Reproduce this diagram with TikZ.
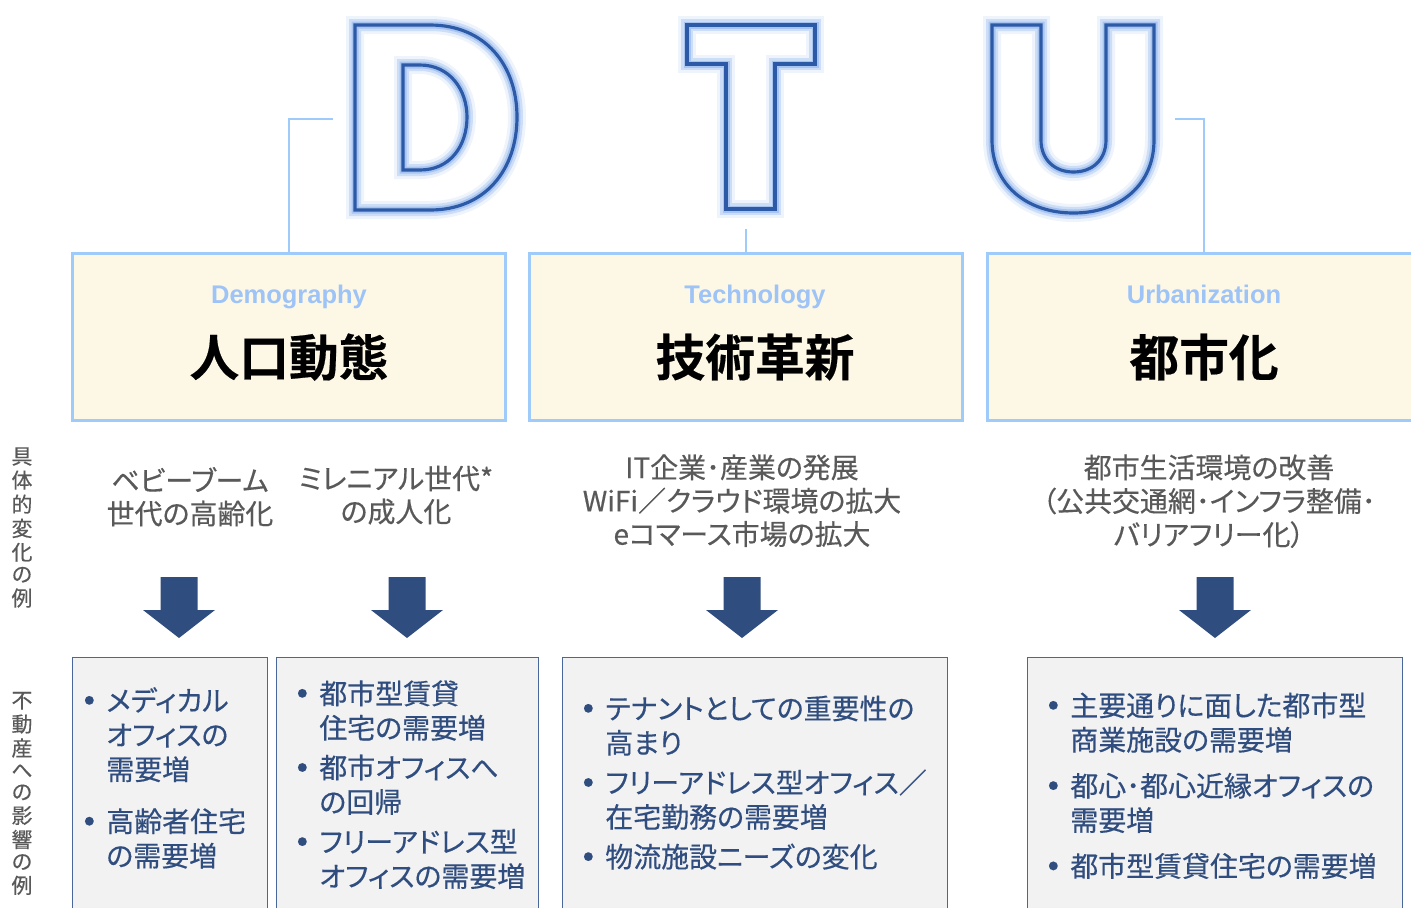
\documentclass[tikz,border=0pt]{standalone}
\usepackage{fontspec}
\setmainfont{Noto Sans CJK JP}[BoldFont={Noto Sans CJK JP Bold}, RawFeature=+palt, FakeBold=0.4]
\newfontfamily\enfont{Liberation Sans}
\definecolor{hdrline}{HTML}{9FCBFA}
\definecolor{hdrfill}{HTML}{FDF8E6}
\definecolor{enblue}{HTML}{9DC3F7}
\definecolor{midgray}{HTML}{595959}
\definecolor{navy}{HTML}{2F4D7E}
\definecolor{effline}{HTML}{4A679B}
\definecolor{efffill}{HTML}{F2F2F2}
\definecolor{letterline}{HTML}{2C5AA6}
\definecolor{letterglow}{HTML}{8FB4EC}
\newcommand\bul{\makebox[0.34cm][l]{\makebox[0pt]{\raisebox{0.14cm}{\fontsize{5.5}{5.5}\selectfont ●}}}}
\tikzset{
  letter/.style={even odd rule, draw=letterline, line width=1.8pt,
    preaction={fill=white, even odd rule},
    preaction={draw=letterglow, line width=0.36cm, draw opacity=0.15},
    preaction={draw=letterglow, line width=0.24cm, draw opacity=0.35},
    preaction={draw=letterglow, line width=0.14cm, draw opacity=0.6}},
  hdrbox/.style={draw=hdrline, line width=1.7pt, fill=hdrfill, minimum width=8.68cm, minimum height=3.34cm, inner sep=0pt},
  link/.style={draw=hdrline, line width=1.1pt},
  entitle/.style={font=\enfont\bfseries\fontsize{14.5}{16}\selectfont, text=enblue, anchor=base, inner sep=0pt},
  jptitle/.style={font=\bfseries\fontsize{28.3}{32}\selectfont, anchor=base, inner sep=0pt},
  change/.style={font=\fontsize{15.9}{18.4}\selectfont, text=midgray, anchor=base, inner sep=0pt},
  sidelab/.style={font=\fontsize{11.9}{12.4}\selectfont, text=midgray, anchor=base, inner sep=0pt},
  effbox/.style={draw=effline, line width=0.8pt, fill=efffill, anchor=north west, minimum height=5.3cm, inner sep=0pt},
  efftext/.style={font=\fontsize{15.9}{19.6}\selectfont, text=navy, anchor=base west, inner sep=0pt}
}
\begin{document}
\begin{tikzpicture}[x=0.02cm, y=-0.02cm]
\useasboundingbox (0,0) rectangle (1411,907);
\clip (0,0) rectangle (1411,907);

\path[letter] (355,25) -- (430,25) .. controls (485,25) and (517,65) .. (517,117) .. controls (517,170) and (485,210) .. (430,210) -- (355,210) -- cycle
  (403,65) -- (420,65) .. controls (450,65) and (467,90) .. (467,117) .. controls (467,146) and (450,170) .. (420,170) -- (403,170) -- cycle;
\path[letter] (687,25) -- (815,25) -- (815,64) -- (775,64) -- (775,209) -- (726,209) -- (726,64) -- (687,64) -- cycle;
\path[letter] (992,25) -- (1041,25) -- (1041,140) .. controls (1041,160) and (1055,172) .. (1073.5,172) .. controls (1092,172) and (1106,160) .. (1106,140) -- (1106,25) -- (1154,25) -- (1154,140) .. controls (1154,185) and (1120,213) .. (1073.5,213) .. controls (1027,213) and (992,185) .. (992,140) -- cycle;

\node[hdrbox] (demo) at (289,337) {};
\node[hdrbox] (tech) at (746,337) {};
\node[hdrbox] (urban) at (1204,337) {};
\coordinate (dend) at (333,119);
\coordinate (tend) at (746,229);
\coordinate (uend) at (1175,119);
\draw[link] (dend) -| (demo.north);
\draw[link] (tend) -- (tech.north);
\draw[link] (uend) -| (urban.north);
\node[entitle] (demoen) at (289,303) {Demography};
\node[entitle] (techen) at (755,303) {Technology};
\node[entitle] (urbanen) at (1204,303) {Urbanization};
\node[jptitle] (demojp) at (289,376) {人口動態};
\node[jptitle] (techjp) at (755,376) {技術革新};
\node[jptitle] (urbanjp) at (1204,376) {都市化};

\node[sidelab] (side1) at (22,464) {\begin{tabular}[t]{@{}c@{}}具\\体\\的\\変\\化\\の\\例\end{tabular}};
\node[sidelab] (side2) at (22,708) {\begin{tabular}[t]{@{}c@{}}不\\動\\産\\へ\\の\\影\\響\\の\\例\end{tabular}};

\node[change] (chg1) at (190,491) {\begin{tabular}[t]{@{}c@{}}ベビーブーム\\世代の高齢化\end{tabular}};
\node[change] (chg2) at (396,489) {\begin{tabular}[t]{@{}c@{}}ミレニアル世代*\\の成人化\end{tabular}};
\node[change] (chg3) at (742,478) {\begin{tabular}[t]{@{}c@{}}IT企業･産業の発展\\WiFi／クラウド環境の拡大\\eコマース市場の拡大\end{tabular}};
\node[change] (chg4) at (1209,478) {\begin{tabular}[t]{@{}c@{}}都市生活環境の改善\\（公共交通網･インフラ整備･\\バリアフリー化）\end{tabular}};

\foreach \ax in {179,407,742,1215}
  \fill[navy] (\ax-18.5,577) -- (\ax+18.5,577) -- (\ax+18.5,610) -- (\ax+36,610) -- (\ax,638) -- (\ax-36,610) -- (\ax-18.5,610) -- cycle;

\node[effbox, minimum width=3.9cm] (eff1) at (72,657) {};
\node[effbox, minimum width=5.24cm] (eff2) at (276,657) {};
\node[effbox, minimum width=7.7cm] (eff3) at (562,657) {};
\node[effbox, minimum width=7.5cm] (eff4) at (1027,657) {};
\node[efftext] (efftxt1) at (89,711) {\begin{tabular}[t]{@{}l@{}l@{}}\bul&メディカル\\&オフィスの\\&需要増\\[10pt]\bul&高齢者住宅\\&の需要増\end{tabular}};
\node[efftext] (efftxt2) at (302,704) {\begin{tabular}[t]{@{}l@{}l@{}}\bul&都市型賃貸\\&住宅の需要増\\[3pt]\bul&都市オフィスへ\\&の回帰\\[3pt]\bul&フリーアドレス型\\&オフィスの需要増\end{tabular}};
\node[efftext] (efftxt3) at (588,719) {\begin{tabular}[t]{@{}l@{}l@{}}\bul&テナントとしての重要性の\\&高まり\\[3pt]\bul&フリーアドレス型オフィス／\\&在宅勤務の需要増\\[3pt]\bul&物流施設ニーズの変化\end{tabular}};
\node[efftext] (efftxt4) at (1053,716) {\begin{tabular}[t]{@{}l@{}l@{}}\bul&主要通りに面した都市型\\&商業施設の需要増\\[6.5pt]\bul&都心･都心近縁オフィスの\\&需要増\\[6.5pt]\bul&都市型賃貸住宅の需要増\end{tabular}};
\end{tikzpicture}
\end{document}
